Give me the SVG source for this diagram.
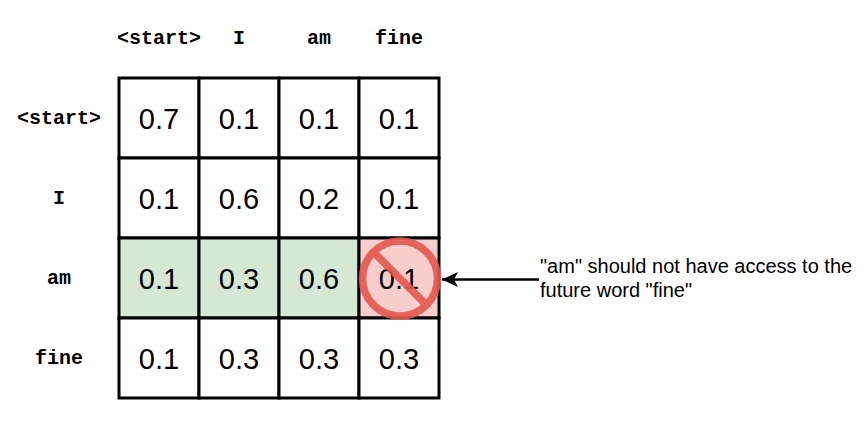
<svg xmlns="http://www.w3.org/2000/svg" width="868" height="425" viewBox="0 0 868 425">
<style>
.c{fill:#fff;stroke:#000;stroke-width:3}
.n{font:29px "Liberation Sans",Arial,sans-serif;text-anchor:middle;fill:#000}
.h{font:bold 20px "Liberation Mono","Courier New",monospace;text-anchor:middle;fill:#000}
.t{font:20px "Liberation Sans",Arial,sans-serif;fill:#000}
</style>
<defs><marker id="a" markerWidth="18" markerHeight="18" refX="16" refY="9" orient="auto" markerUnits="userSpaceOnUse"><path d="M0 1.5L16 9L0 16.500L4 9Z" fill="#000"/></marker></defs>
<rect width="868" height="425" fill="#fff"/>
<g id="headers">
<text class="h" x="159" y="44">&lt;start&gt;</text><text class="h" x="239" y="44">I</text><text class="h" x="319" y="44">am</text><text class="h" x="399" y="44">fine</text>
<text class="h" x="59" y="124">&lt;start&gt;</text><text class="h" x="59" y="204">I</text><text class="h" x="59" y="284">am</text><text class="h" x="59" y="364">fine</text>
</g>
<g id="grid">
<rect class="c" x="119" y="78" width="80" height="80"/><rect class="c" x="199" y="78" width="80" height="80"/><rect class="c" x="279" y="78" width="80" height="80"/><rect class="c" x="359" y="78" width="80" height="80"/>
<rect class="c" x="119" y="158" width="80" height="80"/><rect class="c" x="199" y="158" width="80" height="80"/><rect class="c" x="279" y="158" width="80" height="80"/><rect class="c" x="359" y="158" width="80" height="80"/>
<rect class="c" style="fill:#d5e8d4" x="119" y="238" width="80" height="80"/><rect class="c" style="fill:#d5e8d4" x="199" y="238" width="80" height="80"/><rect class="c" style="fill:#d5e8d4" x="279" y="238" width="80" height="80"/><rect class="c" style="fill:#f8cecc" x="359" y="238" width="80" height="80"/>
<rect class="c" x="119" y="318" width="80" height="80"/><rect class="c" x="199" y="318" width="80" height="80"/><rect class="c" x="279" y="318" width="80" height="80"/><rect class="c" x="359" y="318" width="80" height="80"/>
</g>
<g id="values">
<text class="n" x="159" y="129">0.7</text><text class="n" x="239" y="129">0.1</text><text class="n" x="319" y="129">0.1</text><text class="n" x="399" y="129">0.1</text>
<text class="n" x="159" y="209">0.1</text><text class="n" x="239" y="209">0.6</text><text class="n" x="319" y="209">0.2</text><text class="n" x="399" y="209">0.1</text>
<text class="n" x="159" y="289">0.1</text><text class="n" x="239" y="289">0.3</text><text class="n" x="319" y="289">0.6</text><text class="n" x="399" y="289">0.1</text>
<text class="n" x="159" y="369">0.1</text><text class="n" x="239" y="369">0.3</text><text class="n" x="319" y="369">0.3</text><text class="n" x="399" y="369">0.3</text>
</g>
<g id="prohibit" fill="none" stroke="#e4584e" stroke-width="7.5" opacity=".9"><circle cx="400" cy="278.500" r="37.500"/><path d="M373.500 252L426.500 305"/></g>
<g id="connectors"><path d="M539 279.500H442" fill="none" stroke="#000" stroke-width="2.500" marker-end="url(#a)"/></g>
<g id="note"><text class="t" x="540" y="273">"am" should not have access to the</text><text class="t" x="540" y="297">future word "fine"</text></g>
</svg>
